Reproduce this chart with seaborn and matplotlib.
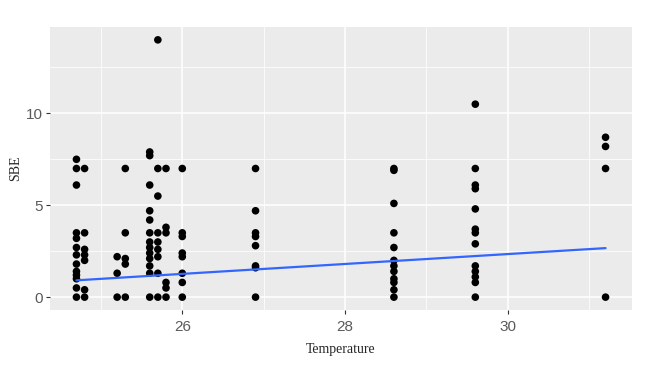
import numpy as np
import pandas as pd
import matplotlib
matplotlib.use("Agg")
import matplotlib.pyplot as plt
import seaborn as sns

# SBE readings grouped by temperature
temperatures = [24.7, 24.8, 25.2, 25.3, 25.6, 25.7, 25.8, 26.0, 26.9, 28.6, 29.6, 31.2]
sbe_24_7 = [7.5, 7.0, 6.1, 3.5, 3.2, 2.7, 2.3, 1.8, 1.4, 1.2, 1.0, 0.5, 0]
sbe_24_8 = [7.0, 3.5, 2.6, 2.3, 2.0, 0.4, 0]
sbe_25_2 = [2.2, 1.3, 0]
sbe_25_3 = [7.0, 3.5, 2.1, 1.8, 0]
sbe_25_6 = [7.9, 7.7, 6.1, 4.7, 4.2, 3.5, 3.0, 2.7, 2.4, 2.1, 1.7, 1.3, 0]
sbe_25_7 = [14.0, 7.0, 5.5, 3.5, 3.0, 2.6, 2.2, 1.3, 0]
sbe_25_8 = [7.0, 3.8, 3.5, 0.8, 0.5, 0]
sbe_26_0 = [7.0, 3.5, 3.3, 2.4, 2.2, 1.3, 0.8, 0]
sbe_26_9 = [7.0, 4.7, 3.5, 3.3, 2.8, 1.7, 1.6, 0]
sbe_28_6 = [7.0, 6.9, 5.1, 3.5, 2.7, 2.0, 1.7, 1.4, 1.0, 0.8, 0.4, 0]
sbe_29_6 = [10.5, 7.0, 6.1, 5.9, 4.8, 3.7, 3.5, 2.9, 1.7, 1.4, 1.1, 0.8, 0]
sbe_31_2 = [8.7, 8.2, 7.0, 0]

# extra zero readings hidden under the single dot at 0 (implied by the fit line)
extra_zeros = [27, 14, 7, 7, 27, 14, 7, 14, 3, 10, 10, 3]

sbe_groups = [sbe_24_7, sbe_24_8, sbe_25_2, sbe_25_3, sbe_25_6, sbe_25_7,
              sbe_25_8, sbe_26_0, sbe_26_9, sbe_28_6, sbe_29_6, sbe_31_2]

x_ticks = [26, 28, 30]
y_ticks = [0, 5, 10]

rows = []
for t, vals, nz in zip(temperatures, sbe_groups, extra_zeros):
    for v in list(vals) + [0] * nz:
        rows.append({"Temperature": t, "SBE": v})
df = pd.DataFrame(rows)

sns.set_theme(style="darkgrid", rc={
    "axes.facecolor": "#EBEBEB",
    "figure.facecolor": "white",
    "grid.color": "white",
    "axes.edgecolor": "#EBEBEB",
})

fig = plt.figure(figsize=(6.5, 3.66), dpi=100)
ax = fig.add_axes([50 / 650, 1 - 310 / 366, 582 / 650, 283 / 366])

# stacked duplicates would only thicken the dot edges, so plot each once
sns.scatterplot(data=df.drop_duplicates(), x="Temperature", y="SBE", color="black",
                s=30, edgecolor="none", ax=ax, zorder=3)
sns.regplot(data=df, x="Temperature", y="SBE", scatter=False, ci=None,
            truncate=True, color="#3366FF", line_kws={"lw": 1.6, "zorder": 4}, ax=ax)

# ggplot-like expansion of 5%
xmin, xmax = min(temperatures), max(temperatures)
xr = xmax - xmin
ax.set_xlim(xmin - 0.05 * xr, xmax + 0.05 * xr)
ymax = df["SBE"].max()
ax.set_ylim(-0.05 * ymax, ymax * 1.05)

ax.set_xticks(x_ticks)
ax.set_yticks(y_ticks)
ax.set_xticks([25, 27, 29, 31], minor=True)
ax.set_yticks([2.5, 7.5, 12.5], minor=True)
ax.grid(which="major", color="white", lw=1.1)
ax.grid(which="minor", color="white", lw=0.55)
ax.tick_params(axis="x", which="major", pad=4)
ax.tick_params(axis="y", which="major", pad=2)
ax.tick_params(axis="both", which="major", labelsize=11, labelcolor="#5A5A5A",
               color="#333333", length=3, width=0.8, bottom=True, left=True)
ax.tick_params(axis="both", which="minor", length=0)
for lbl in ax.get_xticklabels() + ax.get_yticklabels():
    lbl.set_family("Liberation Sans")
for sp in ax.spines.values():
    sp.set_visible(False)

ax.set_xlabel("Temperature", family="Liberation Serif", fontsize=10, labelpad=7)
ax.set_ylabel("SBE", family="Liberation Serif", fontsize=10, labelpad=3)

fig.savefig("out.png", dpi=100)
